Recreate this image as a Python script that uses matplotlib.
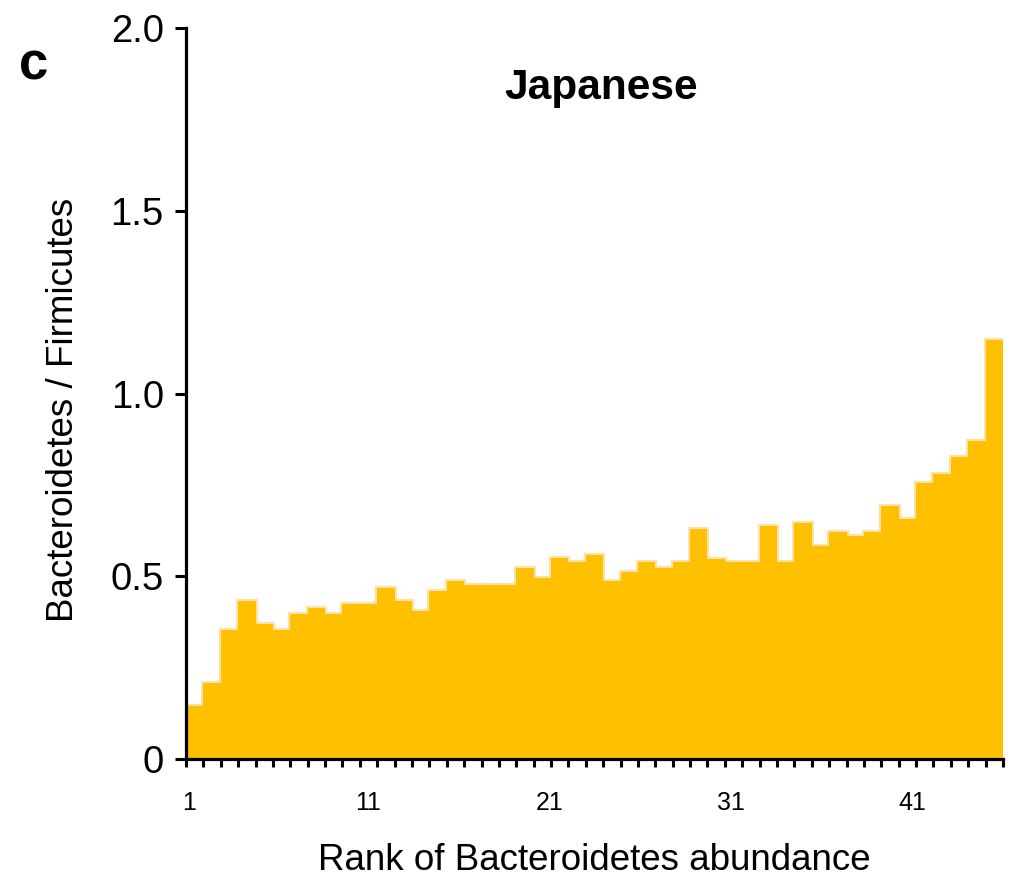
import numpy as np
import matplotlib
matplotlib.use('Agg')
import matplotlib.pyplot as plt

plt.rcParams['font.family'] = ['Liberation Sans', 'DejaVu Sans']

# Bacteroidetes / Firmicutes ratio, sorted by rank (47 subjects)
ratios = [0.146, 0.209, 0.353, 0.432, 0.369, 0.353, 0.397, 0.413, 0.397, 0.425,
          0.425, 0.469, 0.433, 0.406, 0.460, 0.488, 0.476, 0.476, 0.476, 0.523,
          0.496, 0.549, 0.540, 0.558, 0.488, 0.512, 0.540, 0.523, 0.540, 0.629,
          0.547, 0.540, 0.540, 0.637, 0.540, 0.647, 0.583, 0.621, 0.610, 0.621,
          0.693, 0.657, 0.756, 0.780, 0.827, 0.870, 1.146]
rank_labels = ['1', '11', '21', '31', '41']
rank_label_pos = [0.2, 10.45, 20.9, 31.35, 41.8]
yticks = [0, 0.5, 1.0, 1.5, 2.0]
ytick_labels = ['0', '0.5', '1.0', '1.5', '2.0']

BAR = '#FFC000'
HALO = '#FEE0A8'

fig = plt.figure(figsize=(10.15, 8.86), dpi=100)
ax = fig.add_axes([186 / 1015, 1 - 759 / 886, 817 / 1015, 731 / 886])

xs = np.arange(len(ratios))
# light halo around the bar outline, then the solid bars over it
ax.bar(xs, ratios, width=1.0, align='edge', color=HALO, edgecolor=HALO,
       linewidth=3, zorder=1)
ax.bar(xs, ratios, width=1.0, align='edge', color=BAR, linewidth=0, zorder=2)

ax.set_xlim(0, len(ratios))
ax.set_ylim(0, 2.0)

for s in ['top', 'right']:
    ax.spines[s].set_visible(False)
for s in ['left', 'bottom']:
    ax.spines[s].set_linewidth(2.3)
    ax.spines[s].set_zorder(5)

ax.set_yticks(yticks)
ax.set_yticklabels(ytick_labels, fontsize=27.5)
ax.tick_params(axis='y', direction='out', length=8, width=2.2, pad=8)

# one tick per bar edge, labels every ten ranks
ax.set_xticks(np.arange(len(ratios) + 1), minor=True)
ax.set_xticks(rank_label_pos)
ax.set_xticklabels(rank_labels, fontsize=18)
ax.tick_params(axis='x', which='minor', direction='out', length=6, width=2.2)
ax.tick_params(axis='x', which='major', length=0, pad=23)

ax.set_ylabel('Bacteroidetes / Firmicutes', fontsize=26.5, labelpad=21)
ax.yaxis.label.set_y(0.477)
ax.set_xlabel('Rank of Bacteroidetes abundance', fontsize=26.5, labelpad=20)

ax.text(0.508, 0.918, 'Japanese', transform=ax.transAxes, ha='center',
        va='center', fontsize=30.5, fontweight='bold')
fig.text(34 / 1015, 1 - 66 / 886, 'c', ha='center', va='center',
         fontsize=38, fontweight='bold')

plt.savefig('out.png', dpi=100)
